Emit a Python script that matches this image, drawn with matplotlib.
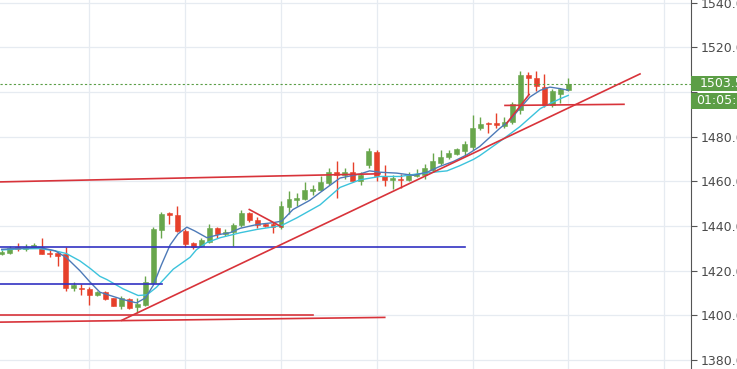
import matplotlib
matplotlib.use("Agg")
import matplotlib.pyplot as plt
from matplotlib.patches import Rectangle

# candle data, one entry per bar
opens = [1427.6, 1427.8, 1430.8, 1429.8, 1430.4, 1430.5, 1428.1, 1428.0, 1427.4, 1412.3,
         1412.4, 1411.9, 1409.3, 1410.4, 1407.7, 1404.0, 1407.4, 1403.7, 1404.8, 1414.5,
         1438.2, 1445.9, 1444.8, 1437.8, 1432.3, 1431.1, 1433.0, 1439.0, 1436.6, 1437.3,
         1440.3, 1445.9, 1442.7, 1440.9, 1440.8, 1439.6, 1448.6, 1451.6, 1452.1, 1455.6,
         1456.0, 1459.2, 1464.0, 1463.0, 1464.0, 1460.3, 1467.4, 1473.3, 1462.5, 1460.4,
         1461.0, 1460.8, 1462.5, 1463.0, 1465.2, 1468.4, 1470.8, 1472.3, 1473.8, 1475.6,
         1484.0, 1486.0, 1486.0, 1484.9, 1486.4, 1491.9, 1507.7, 1506.2, 1502.2, 1494.4,
         1499.3, 1501.1]
highs = [1429.2, 1431.0, 1432.6, 1432.0, 1432.5, 1434.5, 1429.2, 1429.0, 1430.4, 1415.0,
         1414.0, 1412.5, 1411.0, 1411.0, 1408.0, 1408.5, 1408.0, 1408.0, 1417.8, 1439.5,
         1446.2, 1446.2, 1448.9, 1438.5, 1433.0, 1434.5, 1441.0, 1439.5, 1438.8, 1441.2,
         1447.1, 1446.5, 1444.0, 1441.5, 1442.0, 1451.4, 1455.6, 1455.0, 1459.7, 1458.5,
         1462.2, 1465.9, 1469.3, 1466.0, 1468.6, 1464.0, 1475.0, 1474.0, 1467.4, 1463.0,
         1463.5, 1464.0, 1465.5, 1467.9, 1472.6, 1474.0, 1474.2, 1475.0, 1478.0, 1489.6,
         1488.9, 1486.5, 1490.4, 1488.9, 1495.5, 1509.2, 1509.0, 1509.6, 1508.1, 1501.5,
         1502.0, 1506.4]
lows = [1427.0, 1427.5, 1429.0, 1429.0, 1430.0, 1427.5, 1426.2, 1422.0, 1410.7, 1410.7,
        1409.2, 1404.5, 1408.6, 1407.0, 1404.0, 1403.0, 1403.0, 1401.2, 1404.0, 1414.0,
        1434.8, 1440.7, 1437.5, 1430.5, 1429.5, 1430.5, 1432.5, 1434.8, 1435.5, 1431.0,
        1439.5, 1442.0, 1439.0, 1439.5, 1437.0, 1438.5, 1445.5, 1449.0, 1451.5, 1454.0,
        1455.5, 1458.5, 1452.6, 1461.0, 1459.5, 1458.5, 1465.8, 1460.0, 1458.0, 1456.5,
        1457.0, 1460.0, 1462.0, 1461.0, 1464.0, 1467.5, 1470.0, 1472.0, 1471.9, 1474.0,
        1483.0, 1481.5, 1484.0, 1484.0, 1485.5, 1490.0, 1498.5, 1500.5, 1493.5, 1493.5,
        1495.2, 1500.5]
closes = [1428.6, 1430.0, 1429.8, 1430.5, 1431.3, 1427.7, 1427.7, 1426.8, 1412.3, 1413.8,
          1411.9, 1409.2, 1410.4, 1407.4, 1404.4, 1407.7, 1403.4, 1405.2, 1415.1, 1438.5,
          1445.5, 1444.8, 1437.8, 1431.9, 1430.8, 1433.6, 1439.3, 1436.6, 1437.5, 1440.3,
          1445.9, 1442.5, 1440.3, 1440.2, 1439.6, 1448.9, 1452.1, 1452.6, 1456.0, 1456.6,
          1459.7, 1464.0, 1463.0, 1464.0, 1460.0, 1463.0, 1473.8, 1462.5, 1460.4, 1461.5,
          1460.5, 1463.0, 1463.5, 1465.9, 1468.9, 1471.1, 1472.6, 1474.4, 1476.6, 1484.0,
          1485.9, 1485.5, 1485.3, 1486.7, 1494.8, 1507.7, 1506.2, 1502.7, 1494.1, 1500.3,
          1501.2, 1503.57]

# moving averages (bar index, price)
fast_ma_x = [0, 2.3, 4.8, 6.7, 8.1, 9.8, 11.1, 12.3, 13.6, 15.2, 16.9, 18.0, 19.0, 20.0,
             21.1, 22.1, 23.2, 24.2, 25.7, 27.4, 28.6, 29.9, 32.0, 34.0, 35.1, 36.5, 38.6,
             39.9, 42.4, 44.9, 46.1, 47.4, 49.5, 51.6, 53.3, 54.9, 56.6, 58.3, 59.9, 62.4,
             63.7, 64.9, 66.2, 67.5, 68.7, 70.0, 71.0]
fast_ma_y = [1429.6, 1430.0, 1430.4, 1428.9, 1425.9, 1420.0, 1414.8, 1410.4, 1408.9, 1407.1,
             1405.6, 1407.8, 1413.5, 1422.5, 1431.5, 1436.5, 1439.5, 1437.8, 1434.8, 1436.3,
             1437.0, 1439.0, 1440.7, 1441.5, 1442.2, 1447.4, 1451.5, 1455.0, 1461.5, 1463.3,
             1464.7, 1464.1, 1463.7, 1462.7, 1464.1, 1466.7, 1468.9, 1471.9, 1475.6, 1483.7,
             1487.4, 1492.6, 1497.8, 1500.8, 1502.2, 1501.5, 1500.8]
slow_ma_x = [0, 2.3, 4.8, 6.7, 8.1, 9.8, 11.1, 12.3, 13.2, 15.2, 17.1, 18.2, 19.4, 21.5,
             23.6, 24.4, 25.7, 27.4, 29.9, 32.0, 34.0, 35.1, 37.0, 39.9, 42.4, 44.9, 47.4,
             49.9, 52.0, 54.1, 55.8, 57.4, 59.1, 59.9, 62.4, 64.9, 67.5, 68.7, 70.0, 71.0]
slow_ma_y = [1429.3, 1429.8, 1429.9, 1428.9, 1427.7, 1424.4, 1421.0, 1417.5, 1416.0, 1411.9,
             1408.9, 1409.2, 1412.6, 1420.7, 1426.0, 1429.4, 1432.6, 1434.8, 1437.0, 1438.5,
             1439.6, 1440.3, 1443.7, 1449.5, 1457.3, 1460.7, 1462.2, 1462.2, 1463.3, 1464.1,
             1464.7, 1467.0, 1469.8, 1471.5, 1477.8, 1484.4, 1492.6, 1494.8, 1497.0, 1498.5]

# drawn lines: (x0, y0, x1, y1) in bar index / price
red_lines = [
    (-1.0, 1459.7, 47.4, 1463.4),
    (-1.0, 1400.3, 39.0, 1400.3),
    (-1.0, 1396.95, 48.0, 1399.1),
    (15.04, 1397.8, 79.99, 1508.1),
    (63.07, 1494.0, 77.98, 1494.5),
    (31.03, 1447.4, 35.1, 1439.6),
    (63.3, 1486.1, 66.1, 1498.9),
]
blue_lines = [
    (-1.0, 1430.8, 58.06, 1430.8),
    (-1.0, 1414.1, 20.1, 1414.1),
]
last_price = 1503.57
countdown = "01:05:38"
price_ticks = [1380, 1400, 1420, 1440, 1460, 1480, 1500, 1520, 1540]

GREEN = "#68a64c"
RED = "#e6402b"

fig = plt.figure(figsize=(7.37, 3.69), dpi=100)
ax = fig.add_axes([0, 0, 691 / 737, 1])
ax.set_xlim(-0.213, 86.38)
ax.set_ylim(1376, 1541.2)

ax.set_xticks(range(11, 87, 12))
ax.set_yticks(price_ticks)
ax.set_yticklabels(["" if p == 1500 else f"{p:.2f}" for p in price_ticks])
ax.grid(True, color="#e6ebf1", linewidth=0.9, zorder=0)
ax.set_axisbelow(True)

for s in ("top", "left", "bottom"):
    ax.spines[s].set_visible(False)
ax.spines["right"].set_color("#555555")
ax.yaxis.tick_right()
ax.tick_params(axis="y", direction="out", length=4, color="#555555",
               labelcolor="#4a4a4a", labelsize=9, pad=3)
ax.tick_params(axis="x", length=0, labelbottom=False)

# candles
for i in range(len(opens)):
    col = GREEN if closes[i] >= opens[i] else RED
    ax.vlines(i, lows[i], highs[i], color=col, linewidth=1.0, zorder=2)
    lo = min(opens[i], closes[i])
    h = max(abs(closes[i] - opens[i]), 0.45)
    ax.bar(i, h, bottom=lo, width=0.62, color=col, edgecolor=col,
           linewidth=0.4, zorder=3)

ax.plot(slow_ma_x, slow_ma_y, color="#3cc3dc", linewidth=1.0, zorder=4)
ax.plot(fast_ma_x, fast_ma_y, color="#4d7ab8", linewidth=1.0, zorder=4)

for x0, y0, x1, y1 in blue_lines:
    ax.plot([x0, x1], [y0, y1], color="#3232c2", linewidth=1.2, zorder=5)
for x0, y0, x1, y1 in red_lines:
    ax.plot([x0, x1], [y0, y1], color="#d8333a", linewidth=1.2, zorder=5)

ax.axhline(last_price, color="#5b9e47", linewidth=0.8, linestyle=(0, (2, 2)), zorder=4)

# price / countdown tags on the scale
W, H = 737, 369
fig.add_artist(Rectangle((691 / W, (H - 91) / H), 50 / W, 15 / H,
                         transform=fig.transFigure, facecolor="#5c9e46",
                         edgecolor="none", zorder=10))
fig.add_artist(Rectangle((691 / W, (H - 109) / H), 50 / W, 16.5 / H,
                         transform=fig.transFigure, facecolor="#5c9e46",
                         edgecolor="none", zorder=10))
fig.text(700 / W, (H - 83.5) / H, f"{last_price:.2f}", color="white", fontsize=9,
         va="center", ha="left", zorder=11)
fig.text(696.5 / W, (H - 101) / H, countdown, color="white", fontsize=9,
         va="center", ha="left", zorder=11)

fig.savefig("out.png", dpi=100)
